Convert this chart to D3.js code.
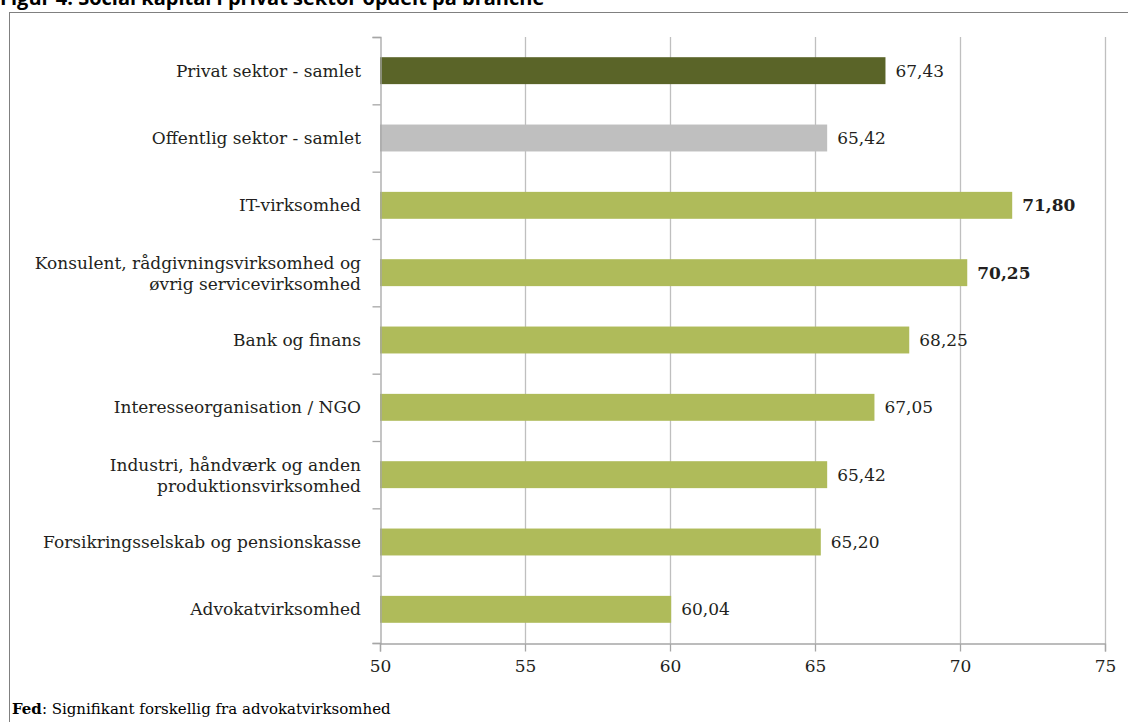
<!DOCTYPE html>
<html>
<head>
<meta charset="utf-8">
<script src="https://cdn.jsdelivr.net/npm/d3@7"></script>
<style>
  body { margin: 0; background: #fff; }
  svg { display: block; }
</style>
</head>
<body>
<div id="chart"></div>
<script>
const categories = [
    "Privat sektor - samlet",
    "Offentlig sektor - samlet",
    "IT-virksomhed",
    "Konsulent, rådgivningsvirksomhed og\nøvrig servicevirksomhed",
    "Bank og finans",
    "Interesseorganisation / NGO",
    "Industri, håndværk og anden\nproduktionsvirksomhed",
    "Forsikringsselskab og pensionskasse",
    "Advokatvirksomhed"
];
const values = [67.43, 65.42, 71.80, 70.25, 68.25, 67.05, 65.42, 65.20, 60.04];
const significant = [false, false, true, true, false, false, false, false, false];
const barColors = ["#5a6428", "#bfbfbf", "#afbb5a", "#afbb5a", "#afbb5a", "#afbb5a", "#afbb5a", "#afbb5a", "#afbb5a"];
const xTicks = [50, 55, 60, 65, 70, 75];

const width = 1128, height = 722;
const plotLeft = 380, plotRight = 1105, plotTop = 37, plotBottom = 643;
const serif = "'DejaVu Serif', 'Liberation Serif', serif";
const textColor = "#231f20";

const svg = d3.select("#chart").append("svg")
    .attr("width", width)
    .attr("height", height);

// title, cut off by the top of the page
svg.append("text")
    .attr("x", 0)
    .attr("y", 5)
    .attr("font-family", "'Open Sans', 'Liberation Sans', sans-serif")
    .attr("font-weight", "bold")
    .attr("font-size", 20)
    .attr("fill", "#000")
    .text("Figur 4: Social kapital i privat sektor opdelt på branche");

// frame
svg.append("rect")
    .attr("x", 9.5)
    .attr("y", 12.5)
    .attr("width", 1130)
    .attr("height", 720)
    .attr("fill", "none")
    .attr("stroke", "#808080")
    .attr("stroke-width", 1);

let xScale = d3.scaleLinear()
    .domain([50, 75])
    .range([plotLeft, plotRight]);

let yScale = d3.scaleBand()
    .domain(d3.range(categories.length))
    .range([plotTop, plotBottom])
    .paddingInner(0.6)
    .paddingOuter(0.3);

// vertical grid lines
svg.selectAll("line.grid")
    .data(xTicks.slice(1))
    .enter()
    .append("line")
    .attr("class", "grid")
    .attr("x1", d => Math.round(xScale(d)) + 0.5)
    .attr("x2", d => Math.round(xScale(d)) + 0.5)
    .attr("y1", plotTop)
    .attr("y2", plotBottom)
    .attr("stroke", "#bfbfbf")
    .attr("stroke-width", 1.3);

// bars
svg.selectAll("rect.bar")
    .data(values)
    .enter()
    .append("rect")
    .attr("class", "bar")
    .attr("x", xScale(50))
    .attr("y", (d, i) => yScale(i))
    .attr("width", d => xScale(d) - xScale(50))
    .attr("height", yScale.bandwidth())
    .attr("fill", (d, i) => barColors[i]);

// value labels
svg.selectAll("text.value")
    .data(values)
    .enter()
    .append("text")
    .attr("class", "value")
    .attr("x", d => xScale(d) + 10)
    .attr("y", (d, i) => yScale(i) + yScale.bandwidth() / 2)
    .attr("dy", "0.36em")
    .attr("font-family", serif)
    .attr("font-size", 17)
    .attr("font-weight", (d, i) => significant[i] ? "bold" : "normal")
    .attr("fill", textColor)
    .text(d => d3.format(".2f")(d).replace(".", ","));

// y axis
const yAxis = d3.axisLeft(d3.scaleLinear().domain([0, categories.length]).range([plotTop, plotBottom]))
    .tickValues(d3.range(categories.length + 1))
    .tickSize(8)
    .tickFormat("");
const gy = svg.append("g")
    .attr("transform", `translate(${plotLeft + 0.5},0)`)
    .call(yAxis);
gy.selectAll("path, line").attr("stroke", "#a6a6a6").attr("stroke-width", 1.3);

// category labels
svg.selectAll("text.category")
    .data(categories)
    .enter()
    .append("text")
    .attr("class", "category")
    .attr("x", 361)
    .attr("y", (d, i) => yScale(i) + yScale.bandwidth() / 2)
    .attr("text-anchor", "end")
    .attr("font-family", serif)
    .attr("font-size", 17)
    .attr("fill", textColor)
    .each(function (d) {
        const lines = d.split("\n");
        const t = d3.select(this);
        lines.forEach((line, k) => {
            t.append("tspan")
                .attr("x", 361)
                .attr("dy", k === 0 ? (0.36 - (lines.length - 1) * 0.6) + "em" : "1.25em")
                .text(line);
        });
    });

// x axis
const xAxis = d3.axisBottom(xScale)
    .tickValues(xTicks)
    .tickSize(8)
    .tickPadding(8)
    .tickFormat(d3.format("d"));
const gx = svg.append("g")
    .attr("transform", `translate(0,${plotBottom + 0.5})`)
    .call(xAxis);
gx.select("path").attr("stroke", "#a6a6a6").attr("stroke-width", 1.3);
gx.selectAll("line").attr("stroke", "#a6a6a6").attr("stroke-width", 1.3);
gx.selectAll("text")
    .attr("font-family", serif)
    .attr("font-size", 17)
    .attr("fill", textColor);

// footnote
const foot = svg.append("text")
    .attr("x", 12)
    .attr("y", 714)
    .attr("font-family", serif)
    .attr("font-size", 15)
    .attr("fill", "#000");
foot.append("tspan").attr("font-weight", "bold").text("Fed");
foot.append("tspan").text(": Signifikant forskellig fra advokatvirksomhed");
</script>
</body>
</html>
